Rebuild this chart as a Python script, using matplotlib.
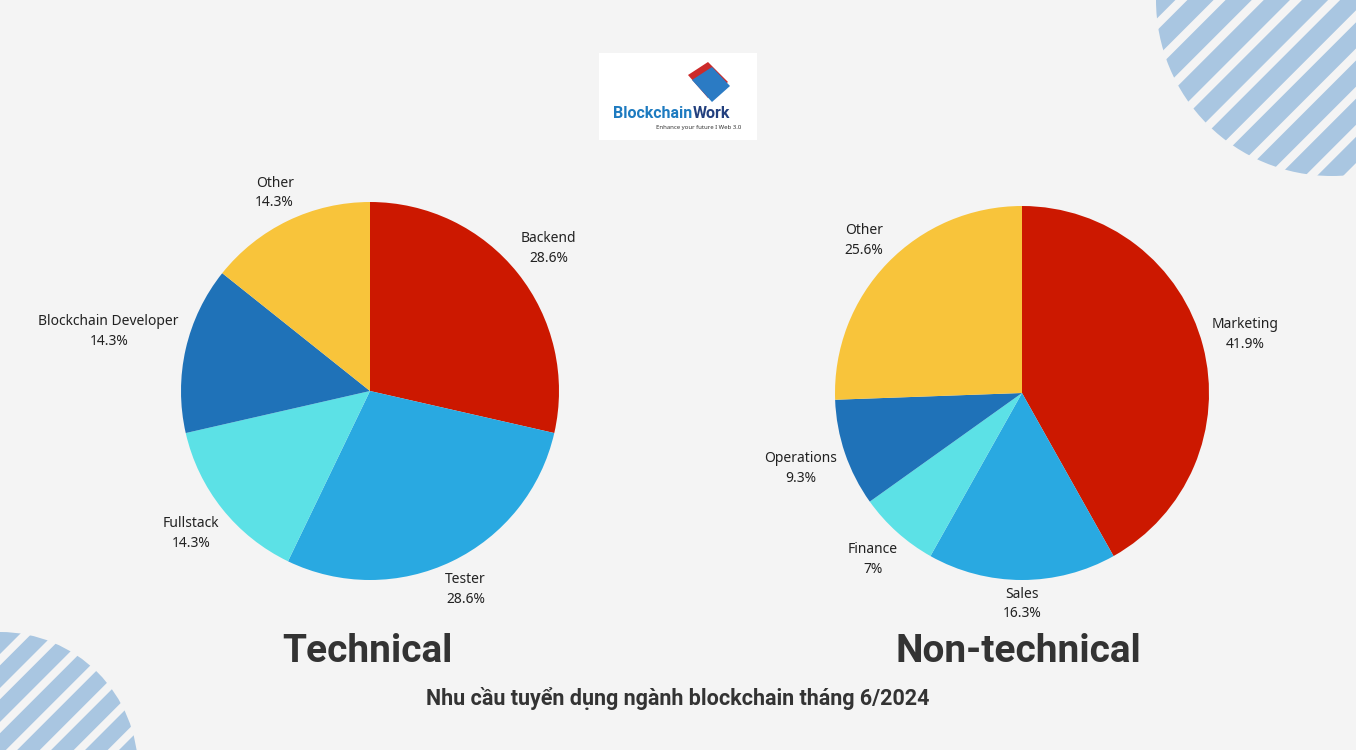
import numpy as np
import matplotlib
matplotlib.use("Agg")
import matplotlib.pyplot as plt
from matplotlib.patches import Circle, Rectangle, Polygon

# ---------------- data ----------------
tech_labels = ["Backend", "Tester", "Fullstack", "Blockchain Developer", "Other"]
tech_values = [28.6, 28.6, 14.3, 14.3, 14.3]
nontech_labels = ["Marketing", "Sales", "Finance", "Operations", "Other"]
nontech_values = [41.9, 16.3, 7.0, 9.3, 25.6]
pie_titles = ["Technical", "Non-technical"]
subtitle = "Nhu cầu tuyển dụng ngành blockchain tháng 6/2024"
colors = ["#CC1800", "#29A9E1", "#5CE1E6", "#1F72B8", "#F8C43B"]

W, H = 1356, 750
BG = "#F4F4F4"
STRIPE = "#A9C6E1"
FONT = ["Noto Sans", "DejaVu Sans"]
BOLD_FONT = ["Roboto", "DejaVu Sans"]

fig = plt.figure(figsize=(W / 100, H / 100), dpi=100, facecolor=BG)
ax = fig.add_axes([0, 0, 1, 1])
ax.set_xlim(0, W)
ax.set_ylim(0, H)
ax.set_aspect("equal")
ax.axis("off")
ax.set_facecolor(BG)


def iy(y):  # image row -> data y
    return H - y


# ---------------- striped corner circles ----------------
def striped_circle(cx, cy, r, period, width, phase=0.0):
    clip = Circle((cx, cy), r, transform=ax.transData, facecolor="none", edgecolor="none")
    ax.add_patch(clip)
    L = 3 * r
    d = np.array([1, 1]) / np.sqrt(2)
    n = np.array([-1, 1]) / np.sqrt(2)
    hw = width / 2
    for k in np.arange(-L, L, period) + phase:
        p0 = np.array([cx, cy]) + n * k
        pts = [p0 - d * L - n * hw, p0 + d * L - n * hw, p0 + d * L + n * hw, p0 - d * L + n * hw]
        poly = Polygon(pts, closed=True, facecolor=STRIPE, edgecolor="none", zorder=0)
        ax.add_patch(poly)
        poly.set_clip_path(clip)


striped_circle(1332, iy(0), 176, period=27, width=18.5)
striped_circle(0, iy(770), 138, period=24, width=16)

# ---------------- logo ----------------
ax.add_patch(Rectangle((599, iy(140)), 158, 87, facecolor="white", edgecolor="none", zorder=1))
ax.add_patch(Polygon([(688, iy(75)), (708, iy(62)), (728, iy(82)), (708, iy(98))], closed=True,
                     facecolor="#CC2A2A", edgecolor="none", zorder=2))
ax.add_patch(Polygon([(692, iy(80)), (712, iy(67)), (730, iy(86)), (712, iy(102))], closed=True,
                     facecolor="#2B7BC4", edgecolor="none", zorder=3))
fig.canvas.draw()
renderer = fig.canvas.get_renderer()
t1 = ax.text(613, iy(113), "Blockchain", color="#1E7BC0", fontsize=11.5, fontweight="bold",
             family=BOLD_FONT, ha="left", va="center", zorder=4)
bb1 = t1.get_window_extent(renderer)
ax.text(bb1.x1, iy(113), "Work", color="#23407E", fontsize=11.5, fontweight="bold",
        family=BOLD_FONT, ha="left", va="center", zorder=4)
ax.text(741, iy(127), "Enhance your future I Web 3.0", color="#333333", fontsize=4.3,
        family=FONT, ha="right", va="center", zorder=4)

# ---------------- pies ----------------
pies = [
    (tech_labels, tech_values, (370, iy(391)), 189),
    (nontech_labels, nontech_values, (1022, iy(393)), 187),
]

for labels, values, center, R in pies:
    wedges, _ = ax.pie(values, colors=colors, startangle=90, counterclock=False,
                       center=center, radius=R, frame=True,
                       wedgeprops=dict(edgecolor="none", linewidth=0))
    for w in wedges:
        w.set_zorder(2)
    for w, lab, v in zip(wedges, labels, values):
        ang = np.deg2rad((w.theta1 + w.theta2) / 2)
        txt = f"{lab}\n{v:g}%"
        t = ax.text(0, 0, txt, ha="center", va="center", fontsize=10, color="#222222",
                    family=FONT, linespacing=1.45, zorder=5)
        bb = t.get_window_extent(renderer)
        hw, hh = bb.width / 2, bb.height / 2
        c, s = np.cos(ang), np.sin(ang)
        d = R * 1.035 + hw * abs(c) + hh * abs(s)
        t.set_position((center[0] + d * c, center[1] + d * s))

ax.set_xlim(0, W)
ax.set_ylim(0, H)
ax.set_aspect("equal")
ax.axis("off")

# ---------------- titles ----------------
ax.text(367, iy(652), pie_titles[0], ha="center", va="center", fontsize=28,
        fontweight="bold", color="#333333", family=BOLD_FONT, zorder=5)
ax.text(1018, iy(652), pie_titles[1], ha="center", va="center", fontsize=28,
        fontweight="bold", color="#333333", family=BOLD_FONT, zorder=5)
ax.text(678, iy(698), subtitle, ha="center", va="center", fontsize=15.5,
        fontweight="bold", color="#333333", family=BOLD_FONT, zorder=5)

fig.savefig("out.png", dpi=100, facecolor=BG)
